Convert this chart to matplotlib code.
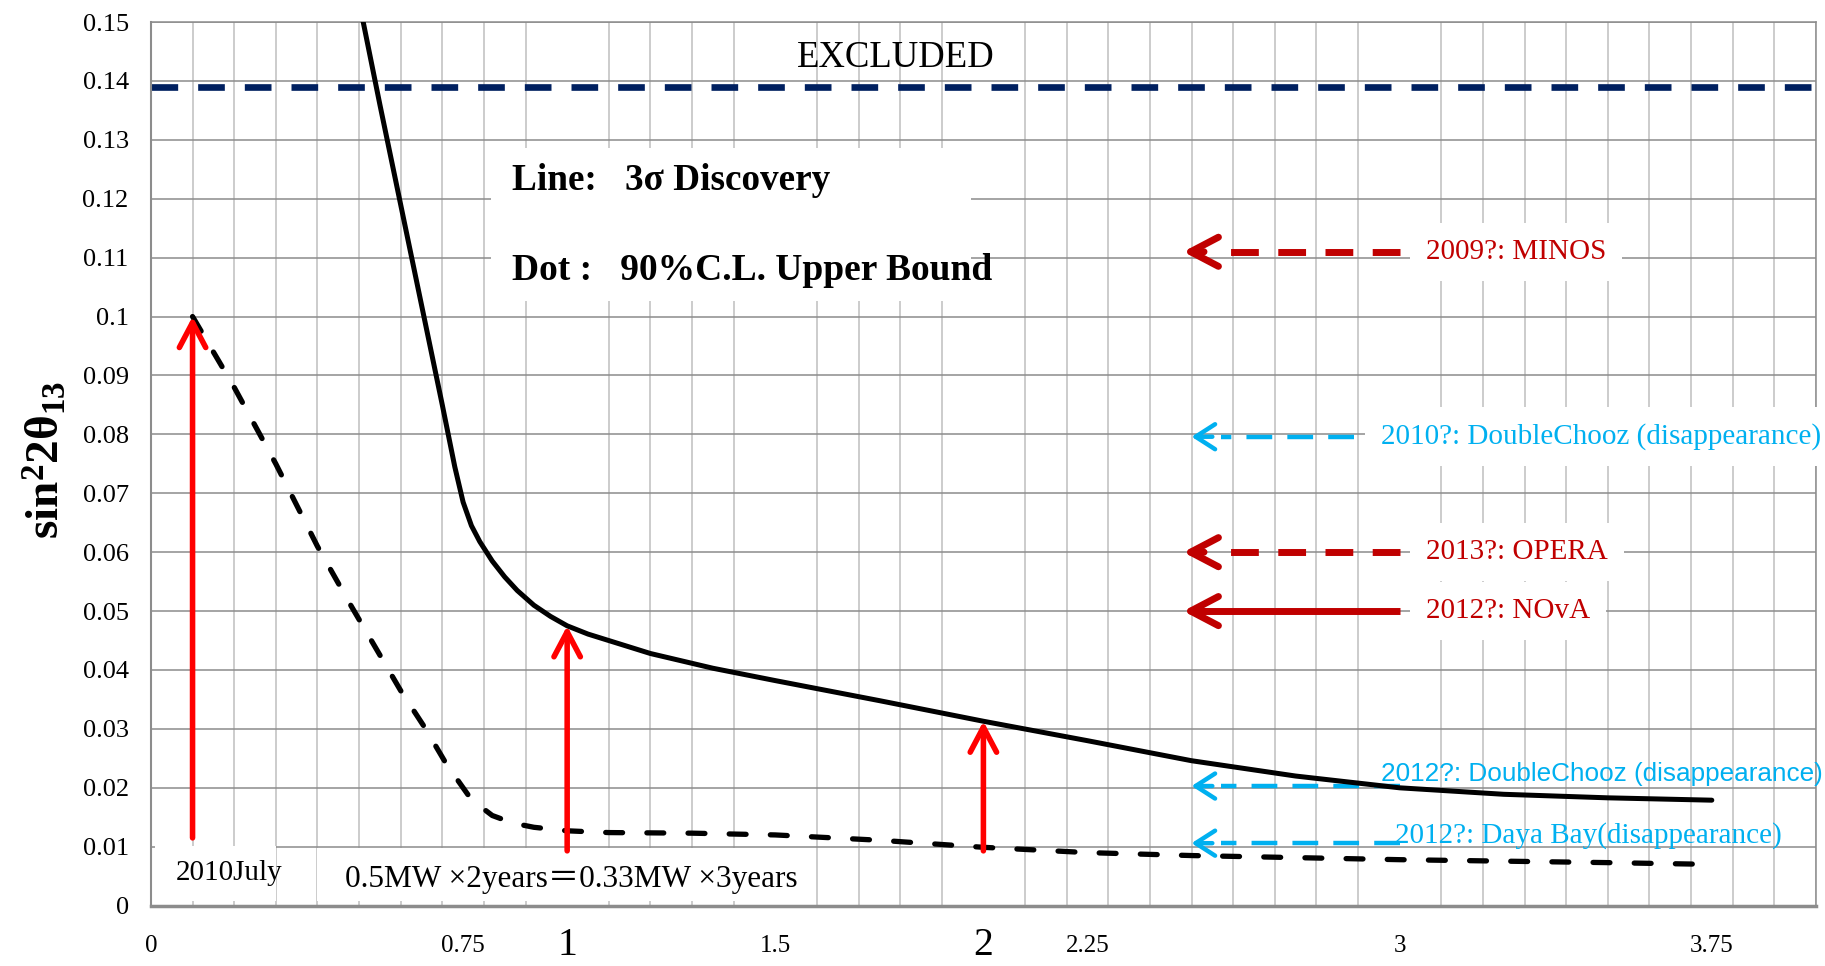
import numpy as np
import matplotlib.pyplot as plt
from matplotlib.patches import Rectangle

plt.rcParams['font.family'] = ['Liberation Serif', 'Noto Sans CJK JP', 'DejaVu Sans']
plt.rcParams['mathtext.fontset'] = 'custom'
plt.rcParams['mathtext.rm'] = 'Liberation Serif'
plt.rcParams['mathtext.bf'] = 'Liberation Serif:bold'
plt.rcParams['mathtext.it'] = 'Liberation Serif:italic'

# --- data ---
# 3 sigma discovery line
disc_x = [0.51, 0.55, 0.60, 0.65, 0.70, 0.73, 0.75, 0.77, 0.79, 0.82, 0.85, 0.88,
          0.92, 0.96, 1.00, 1.05, 1.10, 1.20, 1.35, 1.50, 1.75, 2.00, 2.25, 2.50,
          2.75, 3.00, 3.25, 3.50, 3.75]
disc_y = [0.150, 0.136, 0.119, 0.102, 0.085, 0.0745, 0.0685, 0.0645, 0.0618, 0.0585,
          0.0558, 0.0535, 0.0510, 0.0491, 0.0475, 0.0461, 0.0450, 0.0428, 0.0403,
          0.0382, 0.0348, 0.0313, 0.0280, 0.0246, 0.0220, 0.0200, 0.0189, 0.0183,
          0.0179]

# 90% C.L. upper bound (dotted)
ul_x = [0.10, 0.20, 0.30, 0.40, 0.48, 0.60, 0.66, 0.71, 0.77, 0.82, 0.87, 0.92,
        1.00, 1.10, 1.30, 1.50, 1.75, 2.00, 2.25, 2.50, 3.00, 3.50, 3.75]
ul_y = [0.100, 0.088, 0.075, 0.061, 0.051, 0.0365, 0.030, 0.024, 0.018, 0.0153,
        0.014, 0.0133, 0.0127, 0.0124, 0.0123, 0.0120, 0.0111, 0.0099, 0.0090,
        0.0085, 0.0078, 0.0073, 0.0070]

excluded_y = 0.139

# red upward arrows
up_x = [0.1, 1.0, 2.0]
up_from = [0.0115, 0.0093, 0.0093]
up_to = [0.100, 0.0475, 0.0313]

# other experiments
exp_labels = ['2009?: MINOS', '2010?: DoubleChooz (disappearance)', '2013?: OPERA',
              '2012?: NOvA', '2012?: DoubleChooz (disappearance)',
              '2012?: Daya Bay(disappearance)']
exp_y = [0.111, 0.0796, 0.060, 0.050, 0.0203, 0.0106]
exp_tail = [3.0, 2.89, 3.0, 3.0, 3.0, 3.0]
exp_tip = [2.48, 2.50, 2.48, 2.48, 2.50, 2.50]

xtick_pos = [0, 0.75, 1, 1.5, 2, 2.25, 3, 3.75]
xtick_txt = ['0', '0.75', '1', '1.5', '2', '2.25', '3', '3.75']

DARK_RED = '#C00000'
BLUE = '#00B0F0'
NAVY = '#002060'
GRID_H = '#8C8C8C'
GRID_V = '#BFBFBF'

fig = plt.figure(figsize=(18.25, 9.66), dpi=100)
ax = fig.add_axes([0.0827, 0.0625, 0.9123, 0.9147])
ax.set_xlim(0, 4.0)
ax.set_ylim(0, 0.15)
ax.set_axisbelow(True)

# grid and ticks
ax.set_yticks(np.arange(0, 0.1501, 0.01))
ax.set_yticklabels([f'{round(v, 2):g}' for v in np.arange(0, 0.1501, 0.01)], fontsize=19)
ax.set_xticks(np.arange(0, 4.001, 0.1), minor=True)
ax.set_xticks(xtick_pos)
ax.set_xticklabels(xtick_txt, fontsize=18, va='center')
for lab in ax.get_xticklabels():
    if lab.get_text() in ('1', '2'):
        lab.set_fontsize(28.5)
ax.grid(which='major', axis='y', color=GRID_H, lw=1.1)
ax.grid(which='minor', axis='x', color=GRID_V, lw=1.1)
ax.tick_params(which='both', length=0)
ax.tick_params(axis='y', pad=16)
ax.tick_params(axis='x', pad=29)
for s in ax.spines.values():
    s.set_color(GRID_H)
    s.set_linewidth(1.1)
ax.spines['left'].set_linewidth(1.5)
ax.spines['bottom'].set_linewidth(2.5)

# white text boxes
for (x0, y0, w, h) in [(0.818, 0.1027, 1.152, 0.0259), (0.01, 0.0008, 0.29, 0.0094),
                       (0.40, 0.0008, 1.17, 0.0089)]:
    ax.add_patch(Rectangle((x0, y0), w, h, fc='white', ec='none', zorder=1))

# excluded region boundary
ax.axhline(excluded_y, color=NAVY, lw=4.8, dashes=(4.0, 3.0), zorder=2)
ax.text(1.79, 0.144, 'EXCLUDED', fontsize=26.5, ha='center', va='center', zorder=3)

# curves
ax.plot(disc_x, disc_y, color='black', lw=3.6, solid_capstyle='round',
        solid_joinstyle='round', zorder=4)
ax.plot(ul_x, ul_y, color='black', lw=3.8, dashes=(3.2, 4.6),
        dash_capstyle='round', zorder=4)

# red arrows
for x, y0, y1 in zip(up_x, up_from, up_to):
    ax.annotate('', xy=(x, y1), xytext=(x, y0),
                arrowprops=dict(arrowstyle='->,head_length=1.8,head_width=0.95',
                                color='#FF0000', lw=4.0, shrinkA=0, shrinkB=0,
                                mutation_scale=10), zorder=5)

# experiment arrows and labels
styles = [
    dict(c=DARK_RED, lw=5.0, dash=(4.0, 2.8), head=(2.0, 1.05), tx=3.063, ty=0.111, box=True, fam=None, fs=21),
    dict(c=BLUE, lw=3.2, dash=(5.8, 3.4), head=(1.4, 0.9), tx=2.955, ty=0.0796, box=True, fam=None, fs=21),
    dict(c=DARK_RED, lw=5.0, dash=(4.0, 2.8), head=(2.0, 1.05), tx=3.063, ty=0.060, box=True, fam=None, fs=21),
    dict(c=DARK_RED, lw=5.0, dash=None, head=(2.0, 1.05), tx=3.063, ty=0.050, box=True, fam=None, fs=21),
    dict(c=BLUE, lw=3.2, dash=(5.8, 3.4), head=(1.4, 0.9), tx=2.955, ty=0.0223, box=False, fam='Liberation Sans', fs=18.8),
    dict(c=BLUE, lw=3.2, dash=(5.8, 3.4), head=(1.4, 0.9), tx=2.99, ty=0.0119, box=False, fam=None, fs=21),
]
for lab, y, tail, tip, st in zip(exp_labels, exp_y, exp_tail, exp_tip, styles):
    if st['dash'] is None:
        ax.plot([tip + 0.02, tail], [y, y], color=st['c'], lw=st['lw'],
                solid_capstyle='butt', zorder=3)
    else:
        ax.plot([tail, tip + 0.07], [y, y], color=st['c'], lw=st['lw'],
                dashes=st['dash'], dash_capstyle='butt', zorder=3)
    hl, hw = st['head']
    ax.annotate('', xy=(tip, y), xytext=(tip + 0.05, y),
                arrowprops=dict(arrowstyle=f'->,head_length={hl},head_width={hw}',
                                color=st['c'], lw=st['lw'], shrinkA=0, shrinkB=0,
                                mutation_scale=10), zorder=3)
    kw = dict(fontsize=st['fs'], color=st['c'], ha='left', va='center', zorder=3)
    if st['fam']:
        kw['family'] = st['fam']
    if st['box']:
        kw['bbox'] = dict(boxstyle='square,pad=0.55', fc='white', ec='none')
    ax.text(st['tx'], st['ty'], lab, **kw)

# legend-like text
ax.text(0.868, 0.1231, 'Line:   3σ Discovery', fontsize=26.8, fontweight='bold',
        ha='left', va='center', zorder=3)
ax.text(0.868, 0.1079, 'Dot :   90%C.L. Upper Bound', fontsize=27, fontweight='bold',
        ha='left', va='center', zorder=3)

ax.text(0.189, 0.0055, '2010July', fontsize=21, ha='center', va='center', zorder=3)
ax.text(1.011, 0.0045, '0.5MW ×2years＝0.33MW ×3years', fontsize=22.5,
        ha='center', va='center', zorder=3)

fig.text(0.025, 0.524, r'$\mathbf{sin^{2}2\theta_{13}}$', fontsize=34,
         rotation=90, ha='center', va='center')

fig.savefig('out.png', dpi=100)
